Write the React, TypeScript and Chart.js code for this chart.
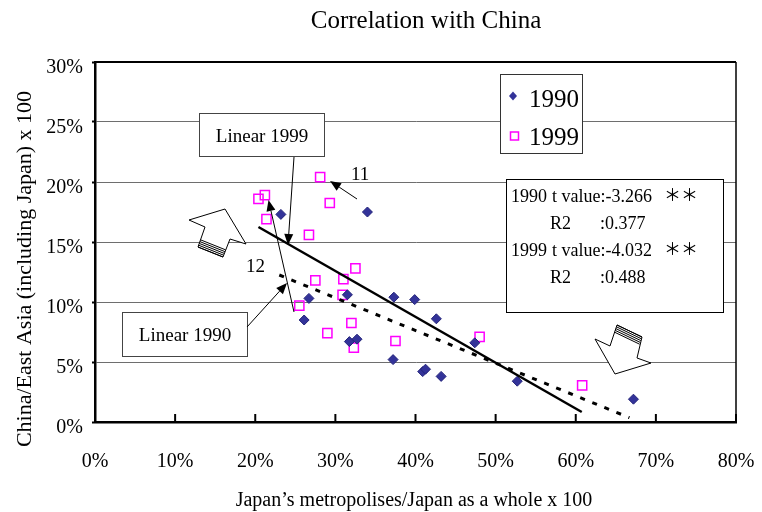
import React, { useEffect, useRef } from "react";
import { Chart, registerables } from "chart.js";

Chart.register(...registerables);

// ---- data (percent) ----
const X_TICKS = [0, 10, 20, 30, 40, 50, 60, 70, 80];
const Y_TICKS = [0, 5, 10, 15, 20, 25, 30];

const x1990 = [23.2, 34.0, 26.7, 26.1, 31.5, 37.3, 39.9, 42.6, 31.75, 32.7, 37.2, 40.9, 41.25, 43.2, 47.4, 52.7, 67.2];
const y1990 = [17.3, 17.5, 10.3, 8.5, 10.6, 10.4, 10.2, 8.6, 6.7, 6.9, 5.2, 4.2, 4.4, 3.8, 6.6, 3.4, 1.9];

const x1999 = [28.1, 20.4, 21.2, 29.3, 21.4, 26.7, 32.5, 27.5, 31.0, 30.9, 25.5, 32.0, 29.0, 32.3, 37.5, 48.0, 60.8];
const y1999 = [20.4, 18.6, 18.9, 18.25, 16.9, 15.6, 12.8, 11.8, 11.9, 10.6, 9.7, 8.25, 7.4, 6.2, 6.75, 7.1, 3.05];

const trend1990X = [23.0, 66.7];
const trend1990Y = [12.25, 0.36];
const trend1999X = [20.4, 60.75];
const trend1999Y = [16.25, 0.83];

const TITLE = "Correlation with China";
const X_TITLE = "Japan\u2019s metropolises/Japan as a whole x 100";
const Y_TITLE = "China/East Asia (including Japan) x 100";
const SERIES_NAMES = ["1990", "1999"];
const STATS = [
  ["1990", "t value:-3.266", "\uFF0A\uFF0A"],
  ["", "R2", ":0.377"],
  ["1999", "t value:-4.032", "\uFF0A\uFF0A"],
  ["", "R2", ":0.488"],
];

const FONT = "'Liberation Serif', 'Times New Roman', serif";
const NAVY = "#333399";
const MAGENTA = "#FF00FF";

const pts = (xs: number[], ys: number[]) => xs.map((x, i) => ({ x, y: ys[i] }));
const pct = (v: number) => `${v}%`;

function arrowLine(ctx: CanvasRenderingContext2D, x1: number, y1: number, x2: number, y2: number, headLen = 11, headW = 4.5) {
  const ang = Math.atan2(y2 - y1, x2 - x1);
  const bx = x2 - headLen * Math.cos(ang);
  const by = y2 - headLen * Math.sin(ang);
  ctx.beginPath();
  ctx.moveTo(x1, y1);
  ctx.lineTo(bx, by);
  ctx.stroke();
  ctx.beginPath();
  ctx.moveTo(x2, y2);
  ctx.lineTo(bx + headW * Math.sin(ang), by - headW * Math.cos(ang));
  ctx.lineTo(bx - headW * Math.sin(ang), by + headW * Math.cos(ang));
  ctx.closePath();
  ctx.fill();
}

function blockArrow(ctx: CanvasRenderingContext2D, poly: number[][], tailL: number[], tailR: number[], dir: number[]) {
  ctx.beginPath();
  ctx.moveTo(poly[0][0], poly[0][1]);
  for (let i = 1; i < poly.length; i++) ctx.lineTo(poly[i][0], poly[i][1]);
  ctx.closePath();
  ctx.fillStyle = "#fff";
  ctx.fill();
  ctx.strokeStyle = "#000";
  ctx.lineWidth = 1;
  ctx.stroke();
  const n = Math.hypot(dir[0], dir[1]);
  const ux = dir[0] / n, uy = dir[1] / n;
  for (let k = 0; k < 5; k++) {
    const d = k * 1.9;
    ctx.beginPath();
    ctx.moveTo(tailL[0] + ux * d, tailL[1] + uy * d);
    ctx.lineTo(tailR[0] + ux * d, tailR[1] + uy * d);
    ctx.stroke();
  }
}

const decorPlugin = {
  id: "decor",
  afterDraw(chart: any) {
    const ctx: CanvasRenderingContext2D = chart.ctx;
    const ca = chart.chartArea;
    const xs = chart.scales.x;
    const ys = chart.scales.y;
    ctx.save();

    // top & right frame
    ctx.strokeStyle = "#000";
    ctx.lineWidth = 2;
    ctx.beginPath();
    ctx.moveTo(ca.left, ca.top);
    ctx.lineTo(ca.right, ca.top);
    ctx.stroke();
    ctx.lineWidth = 1.5;
    ctx.beginPath();
    ctx.moveTo(ca.right, ca.top);
    ctx.lineTo(ca.right, ca.bottom);
    ctx.stroke();

    // inner x ticks
    ctx.lineWidth = 2;
    X_TICKS.forEach((v) => {
      if (v === 0) return;
      const px = xs.getPixelForValue(v);
      ctx.beginPath();
      ctx.moveTo(px, ca.bottom);
      ctx.lineTo(px, ca.bottom - 8);
      ctx.stroke();
    });

    // tick labels
    ctx.fillStyle = "#000";
    ctx.font = `20px ${FONT}`;
    ctx.textBaseline = "alphabetic";
    ctx.textAlign = "center";
    X_TICKS.forEach((v) => {
      ctx.fillText(pct(v), xs.getPixelForValue(v), ca.bottom + 45);
    });
    ctx.textAlign = "right";
    Y_TICKS.forEach((v) => {
      ctx.fillText(pct(v), ca.left - 12, ys.getPixelForValue(v) + 11);
    });

    // titles
    ctx.textAlign = "center";
    ctx.font = `25px ${FONT}`;
    ctx.fillText(TITLE, 426, 28);
    ctx.font = `20px ${FONT}`;
    ctx.fillText(X_TITLE, 414, 506);
    ctx.save();
    ctx.translate(31, 269);
    ctx.rotate(-Math.PI / 2);
    ctx.font = `22px ${FONT}`;
    ctx.fillText(Y_TITLE, 0, 0);
    ctx.restore();

    // legend box
    ctx.fillStyle = "#fff";
    ctx.fillRect(500, 74, 82, 79);
    ctx.strokeStyle = "#333";
    ctx.lineWidth = 1;
    ctx.strokeRect(500.5, 74.5, 82, 79);
    ctx.fillStyle = NAVY;
    ctx.beginPath();
    ctx.moveTo(513, 91.5);
    ctx.lineTo(517, 96);
    ctx.lineTo(513, 100.5);
    ctx.lineTo(509, 96);
    ctx.closePath();
    ctx.fill();
    ctx.strokeStyle = MAGENTA;
    ctx.lineWidth = 1.5;
    ctx.strokeRect(510.5, 132, 8, 8);
    ctx.fillStyle = "#000";
    ctx.textAlign = "left";
    ctx.font = `25px ${FONT}`;
    ctx.fillText(SERIES_NAMES[0], 529, 107);
    ctx.fillText(SERIES_NAMES[1], 529, 145);

    // stats box
    ctx.fillStyle = "#fff";
    ctx.fillRect(506, 179, 217, 133);
    ctx.strokeStyle = "#000";
    ctx.lineWidth = 1;
    ctx.strokeRect(506.5, 179.5, 217, 133);
    ctx.fillStyle = "#000";
    const baselines = [202, 229, 256, 283];
    STATS.forEach((row, i) => {
      const by = baselines[i];
      ctx.font = `18px ${FONT}`;
      if (row[0]) {
        ctx.fillText(row[0], 511, by);
        ctx.fillText(row[1], 552, by);
        ctx.font = `17px 'Noto Sans CJK JP', sans-serif`;
        ctx.fillText(row[2], 664, by - 1);
      } else {
        ctx.fillText(row[1], 550, by);
        ctx.fillText(row[2], 600, by);
      }
    });

    // Linear 1999 label + arrow
    ctx.fillStyle = "#fff";
    ctx.fillRect(199, 113, 125, 43);
    ctx.strokeStyle = "#444";
    ctx.strokeRect(199.5, 113.5, 125, 43);
    ctx.fillStyle = "#000";
    ctx.textAlign = "center";
    ctx.font = `19px ${FONT}`;
    ctx.fillText("Linear 1999", 262, 142);
    ctx.strokeStyle = "#000";
    ctx.lineWidth = 1;
    arrowLine(ctx, 294, 157, 288, 245);

    // Linear 1990 label + arrow
    ctx.fillStyle = "#fff";
    ctx.fillRect(122, 312, 125, 44);
    ctx.strokeStyle = "#444";
    ctx.strokeRect(122.5, 312.5, 125, 44);
    ctx.fillStyle = "#000";
    ctx.fillText("Linear 1990", 185, 341);
    ctx.strokeStyle = "#000";
    arrowLine(ctx, 247, 327, 287, 283);

    // 11 and 12 callouts
    ctx.textAlign = "left";
    ctx.font = `19px ${FONT}`;
    ctx.fillText("11", 351, 180);
    ctx.fillText("12", 246, 272);
    arrowLine(ctx, 357, 199, 330, 181);
    arrowLine(ctx, 294, 312, 268.5, 200);

    // block arrows
    blockArrow(
      ctx,
      [[225, 209], [246, 244], [230, 239], [223, 257], [198, 247], [205, 227], [189, 220]],
      [198, 247], [223, 257], [7, -19]
    );
    blockArrow(
      ctx,
      [[615, 374], [595, 339], [610, 346], [617, 325], [642, 337], [637, 358], [651, 363]],
      [617, 325], [642, 337], [-6.7, 21]
    );

    ctx.restore();
  },
};

export default function App() {
  const ref = useRef<HTMLCanvasElement | null>(null);

  useEffect(() => {
    if (!ref.current) return;
    const chart = new Chart(ref.current, {
      type: "scatter",
      data: {
        datasets: [
          {
            label: "Linear 1990",
            type: "line",
            data: pts(trend1990X, trend1990Y),
            borderColor: "#000",
            borderWidth: 3,
            borderDash: [5, 8],
            pointRadius: 0,
            fill: false,
          } as any,
          {
            label: "Linear 1999",
            type: "line",
            data: pts(trend1999X, trend1999Y),
            borderColor: "#000",
            borderWidth: 2.5,
            pointRadius: 0,
            fill: false,
          } as any,
          {
            label: SERIES_NAMES[0],
            data: pts(x1990, y1990),
            pointStyle: "rectRot",
            pointRadius: 5,
            backgroundColor: NAVY,
            borderColor: "#24247a",
            borderWidth: 1,
          },
          {
            label: SERIES_NAMES[1],
            data: pts(x1999, y1999),
            pointStyle: "rect",
            pointRadius: 6.5,
            backgroundColor: "rgba(0,0,0,0)",
            borderColor: MAGENTA,
            borderWidth: 1.5,
          },
        ],
      },
      options: {
        animation: false,
        responsive: false,
        devicePixelRatio: 1,
        events: [],
        layout: { padding: { top: 62, right: 26, left: 0, bottom: 0 } },
        plugins: {
          legend: { display: false },
          tooltip: { enabled: false },
          title: { display: false },
        },
        scales: {
          x: {
            type: "linear",
            min: 0,
            max: 80,
            afterFit: (s: any) => {
              s.height = 90;
              s.paddingLeft = 0;
              s.paddingRight = 0;
            },
            afterBuildTicks: (s: any) => {
              s.ticks = X_TICKS.map((v) => ({ value: v }));
            },
            ticks: { display: false },
            grid: { display: false },
            border: { display: true, color: "#000", width: 2.5 },
          },
          y: {
            type: "linear",
            min: 0,
            max: 30,
            afterFit: (s: any) => {
              s.width = 95;
              s.paddingTop = 0;
              s.paddingBottom = 0;
            },
            afterBuildTicks: (s: any) => {
              s.ticks = Y_TICKS.map((v) => ({ value: v }));
            },
            ticks: { display: false },
            grid: {
              display: true,
              color: "#6e6e6e",
              lineWidth: 1,
              drawTicks: true,
              tickLength: 3,
              tickColor: "#000",
              tickWidth: 2,
            },
            border: { display: true, color: "#000", width: 2.5 },
          },
        },
      } as any,
      plugins: [decorPlugin],
    });
    return () => chart.destroy();
  }, []);

  return (
    <div style={{ position: "absolute", left: 0, top: 0, width: 762, height: 512, background: "#fff" }}>
      <canvas ref={ref} width={762} height={512} style={{ display: "block" }} />
    </div>
  );
}
